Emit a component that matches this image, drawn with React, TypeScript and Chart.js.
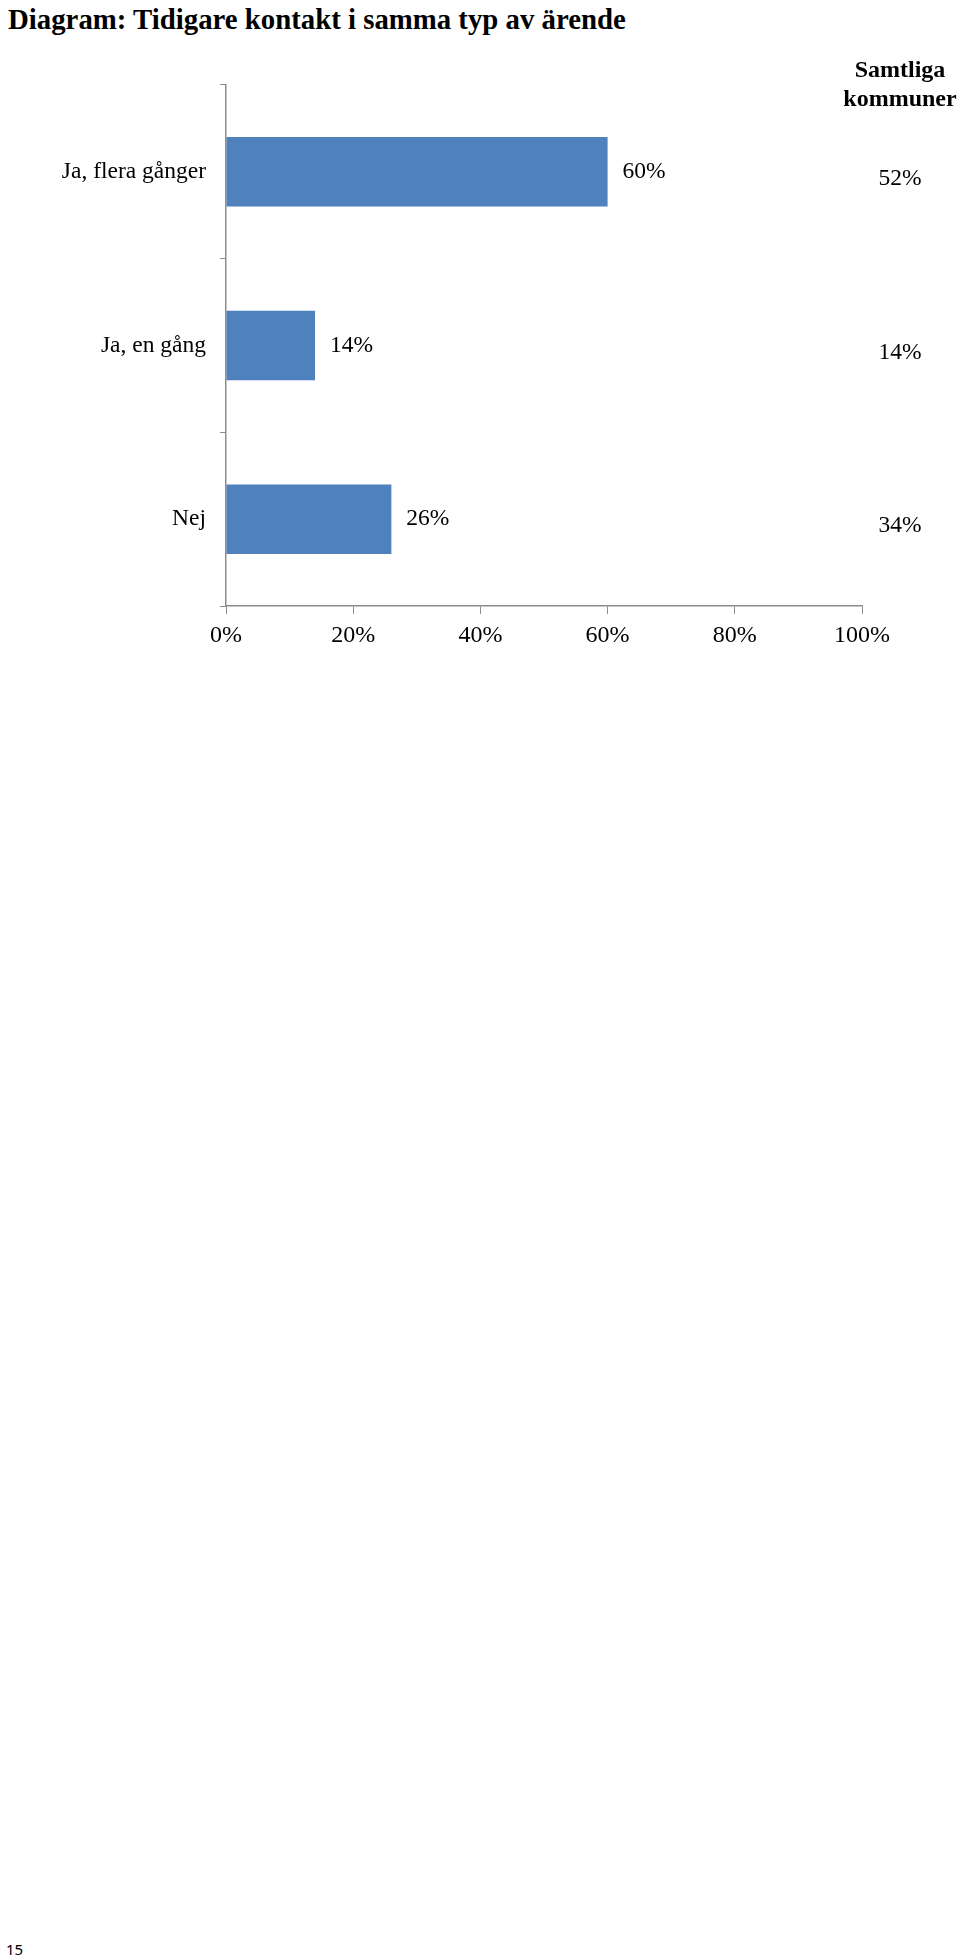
import React, { useEffect, useRef } from "react";
import { Chart, registerables } from "chart.js";

Chart.register(...registerables);

const titleText = "Diagram: Tidigare kontakt i samma typ av ärende";
const categories = ["Ja, flera gånger", "Ja, en gång", "Nej"];
const kommunValues = [60, 14, 26];
const samtligaValues = [52, 14, 34];
const columnHeader = ["Samtliga", "kommuner"];
const xMin = 0;
const xMax = 100;
const xStep = 20;
const pageNumber = "15";

const SERIF = "'Liberation Serif', 'Times New Roman', serif";
const BAR_COLOR = "#4F81BD";
const AXIS_COLOR = "#8C8C8C";

const labelsPlugin = {
  id: "valueLabels",
  afterDatasetsDraw(chart: any) {
    const ctx = chart.ctx;
    const meta = chart.getDatasetMeta(0);
    ctx.save();
    ctx.fillStyle = "#000";
    ctx.textBaseline = "middle";
    ctx.font = `23.5px ${SERIF}`;
    ctx.textAlign = "left";
    meta.data.forEach((bar: any, i: number) => {
      ctx.fillText(`${kommunValues[i]}%`, bar.x + 15, bar.y);
    });
    const colX = 900;
    ctx.textAlign = "center";
    meta.data.forEach((bar: any, i: number) => {
      ctx.fillText(`${samtligaValues[i]}%`, colX, bar.y + 7);
    });
    ctx.font = `bold 24px ${SERIF}`;
    ctx.fillText(columnHeader[0], colX, 71);
    ctx.fillText(columnHeader[1], colX, 100);
    ctx.restore();
  },
};

export default function App() {
  const canvasRef = useRef<HTMLCanvasElement | null>(null);

  useEffect(() => {
    if (!canvasRef.current) return;
    const chart = new Chart(canvasRef.current, {
      type: "bar",
      data: {
        labels: categories,
        datasets: [
          {
            data: kommunValues,
            backgroundColor: BAR_COLOR,
            borderWidth: 0,
            categoryPercentage: 1,
            barPercentage: 0.4,
          },
        ],
      },
      options: {
        indexAxis: "y",
        responsive: false,
        animation: false,
        devicePixelRatio: 1,
        layout: { padding: { left: 0, right: 98, top: 85, bottom: 0 } },
        plugins: {
          legend: { display: false },
          tooltip: { enabled: false },
          title: { display: false },
        },
        scales: {
          x: {
            min: xMin,
            max: xMax,
            ticks: {
              stepSize: xStep,
              callback: (v: any) => `${v}%`,
              color: "#000",
              font: { family: SERIF, size: 24 },
              padding: 7,
              maxRotation: 0,
            },
            grid: {
              drawOnChartArea: false,
              drawTicks: true,
              tickLength: 8,
              color: AXIS_COLOR,
            },
            border: { color: AXIS_COLOR, width: 1.5 },
            afterFit: (s: any) => {
              s.height = 54;
            },
          },
          y: {
            ticks: {
              color: "#000",
              font: { family: SERIF, size: 23.5 },
              padding: 14,
            },
            grid: {
              drawOnChartArea: false,
              drawTicks: true,
              tickLength: 6,
              color: AXIS_COLOR,
              offset: true,
            },
            border: { color: AXIS_COLOR, width: 1.5 },
            afterFit: (s: any) => {
              s.width = 226;
            },
          },
        },
      },
      plugins: [labelsPlugin],
    } as any);
    return () => chart.destroy();
  }, []);

  return (
    <div
      style={{
        position: "absolute",
        left: 0,
        top: 0,
        width: 960,
        height: 1957,
        background: "#fff",
      }}
    >
      <div
        style={{
          position: "absolute",
          left: 8,
          top: 3,
          fontFamily: SERIF,
          fontWeight: "bold",
          fontSize: 28.8,
          lineHeight: "32px",
          whiteSpace: "nowrap",
          color: "#000",
        }}
      >
        {titleText}
      </div>
      <canvas
        ref={canvasRef}
        width={960}
        height={660}
        style={{ position: "absolute", left: 0, top: 0, width: 960, height: 660 }}
      />
      <div
        style={{
          position: "absolute",
          left: 6,
          top: 1939,
          fontFamily: "'Noto Sans', sans-serif",
          fontSize: 15,
          lineHeight: "20px",
          color: "#000",
        }}
      >
        {pageNumber}
      </div>
    </div>
  );
}
